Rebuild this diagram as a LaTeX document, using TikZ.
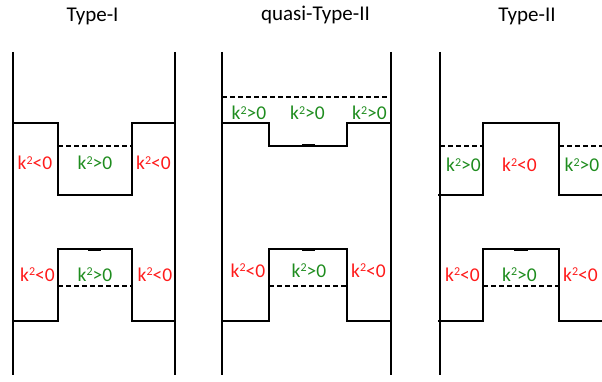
\documentclass[tikz,border=0pt]{standalone}
\usepackage{fontspec}
\setmainfont{Carlito}
\definecolor{kneg}{HTML}{FF1A1A}
\definecolor{kpos}{HTML}{1E8C1E}
\newcommand{\ksq}{k\raisebox{5.3pt}{\fontsize{12}{12}\selectfont 2}}
\begin{document}
\begin{tikzpicture}[x=1pt,y=-1pt,
  wall/.style={line width=2pt},
  pot/.style={line width=2pt,line join=miter},
  lvl/.style={line width=1.6pt,dash pattern=on 5pt off 3pt},
  mk/.style={line width=3pt},
  neglbl/.style={text=kneg,font=\fontsize{19.5}{22}\selectfont,anchor=base,inner sep=0pt},
  poslbl/.style={text=kpos,font=\fontsize{19.5}{22}\selectfont,anchor=base,inner sep=0pt},
  ttl/.style={font=\fontsize{21}{24}\selectfont,anchor=base,inner sep=0pt}]
\useasboundingbox (0,0) rectangle (602,382);
% titles
\node[ttl] (t1) at (92.5,22) {Type-I};
\node[ttl] (t2) at (315.5,21) {quasi-Type-II};
\node[ttl] (t3) at (527,22) {Type-II};
% ---- Panel 1 ----
\draw[wall] (13,52) -- (13,375);
\draw[wall] (175,52) -- (175,375);
\draw[pot] (13,123) -- (58,123) -- (58,195) -- (132,195) -- (132,123) -- (175,123);
\draw[lvl] (58,146) -- (132,146);
\draw[pot] (13,321) -- (58,321) -- (58,249) -- (132,249) -- (132,321) -- (175,321);
\draw[lvl] (58,286) -- (132,286);
\draw[mk] (88,249) -- (101,249);
\node[neglbl] (a1) at (35,170) {\ksq<0};
\node[poslbl] (a2) at (95,170) {\ksq>0};
\node[neglbl] (a3) at (153.5,170) {\ksq<0};
\node[neglbl] (a4) at (37.5,281) {\ksq<0};
\node[poslbl] (a5) at (95,281) {\ksq>0};
\node[neglbl] (a6) at (155,281) {\ksq<0};
% ---- Panel 2 ----
\draw[wall] (222,52) -- (222,375);
\draw[wall] (391,52) -- (391,375);
\draw[lvl] (222,97) -- (391,97);
\draw[pot] (222,123) -- (269,123) -- (269,146) -- (347,146) -- (347,123) -- (392,123);
\draw[mk] (302,146) -- (315,146);
\draw[pot] (222,321) -- (269,321) -- (269,249) -- (347,249) -- (347,321) -- (391,321);
\draw[lvl] (269,286) -- (347,286);
\draw[mk] (302,249) -- (315,249);
\node[poslbl] (b1) at (249,120) {\ksq>0};
\node[poslbl] (b2) at (307.5,120) {\ksq>0};
\node[poslbl] (b3) at (369.5,120) {\ksq>0};
\node[neglbl] (b4) at (248,277) {\ksq<0};
\node[poslbl] (b5) at (309,277) {\ksq>0};
\node[neglbl] (b6) at (368.5,277) {\ksq<0};
% ---- Panel 3 ----
\draw[wall] (440,52) -- (440,375);
\draw[pot] (438,195) -- (483,195) -- (483,123) -- (559,123) -- (559,195) -- (603,195);
\draw[lvl] (440,146) -- (483,146);
\draw[lvl] (559,146) -- (603,146);
\draw[pot] (438,321) -- (483,321) -- (483,249) -- (559,249) -- (559,321) -- (603,321);
\draw[lvl] (483,286) -- (559,286);
\draw[mk] (514,249) -- (528,249);
\node[poslbl] (c1) at (463.5,172) {\ksq>0};
\node[neglbl] (c2) at (519.5,172) {\ksq<0};
\node[poslbl] (c3) at (582,172) {\ksq>0};
\node[neglbl] (c4) at (462.5,281) {\ksq<0};
\node[poslbl] (c5) at (519.5,281) {\ksq>0};
\node[neglbl] (c6) at (580.5,281) {\ksq<0};
\end{tikzpicture}
\end{document}
